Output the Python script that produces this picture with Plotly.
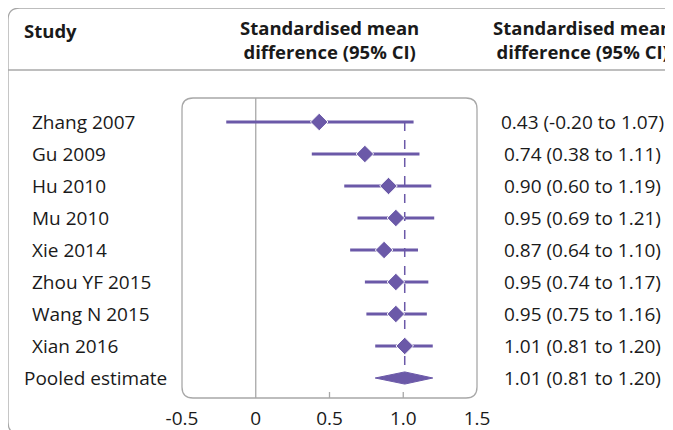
import plotly.graph_objects as go

studies = ["Zhang 2007", "Gu 2009", "Hu 2010", "Mu 2010", "Xie 2014",
           "Zhou YF 2015", "Wang N 2015", "Xian 2016"]
smd = [0.43, 0.74, 0.90, 0.95, 0.87, 0.95, 0.95, 1.01]
lower = [-0.20, 0.38, 0.60, 0.69, 0.64, 0.74, 0.75, 0.81]
upper = [1.07, 1.11, 1.19, 1.21, 1.10, 1.17, 1.16, 1.20]
pooled_label = "Pooled estimate"
pooled = [1.01, 0.81, 1.20]  # estimate, lower, upper
tick_vals = [-0.5, 0, 0.5, 1.0, 1.5]
tick_text = ["-0.5", "0", "0.5", "1.0", "1.5"]

PURPLE = "#6b59a8"
GRAY = "#a8a8a8"
TXT = "#1a1a1a"
FONT = "Open Sans"

OFF = 8  # page body margin
W, H = 673 - OFF, 430 - OFF
L, R, T, B = 182 - OFF, 477 - OFF, 98 - OFF, 398 - OFF
PW, PH = R - L, B - T

def px(x):
    return (x - OFF - L) / PW

def py(y):
    return (B - (y - OFF)) / PH

def rrect(x0, y0, x1, y1, r):
    rx, ry = r / PW, r / PH
    a, b, c, d = px(x0), py(y1), px(x1), py(y0)
    return (f"M {a+rx},{b} L {c-rx},{b} Q {c},{b} {c},{b+ry} L {c},{d-ry} "
            f"Q {c},{d} {c-rx},{d} L {a+rx},{d} Q {a},{d} {a},{d-ry} "
            f"L {a},{b+ry} Q {a},{b} {a+rx},{b} Z")

n = len(studies)
rows = list(range(n))
pooled_row = n

fig = go.Figure()

fig.add_trace(go.Scatter(
    x=smd, y=rows, mode="markers",
    marker=dict(symbol="diamond", size=13.5, color=PURPLE,
                line=dict(color="white", width=1)),
    error_x=dict(type="data", symmetric=False,
                 array=[u - m for u, m in zip(upper, smd)],
                 arrayminus=[m - l for l, m in zip(lower, smd)],
                 color=PURPLE, thickness=3, width=0),
    showlegend=False, hoverinfo="skip", cliponaxis=False))

h = 0.19
fig.add_trace(go.Scatter(
    x=[pooled[1], pooled[0], pooled[2], pooled[0], pooled[1]],
    y=[pooled_row, pooled_row - h, pooled_row, pooled_row + h, pooled_row],
    mode="lines", fill="toself", fillcolor=PURPLE,
    line=dict(color=PURPLE, width=1), showlegend=False, hoverinfo="skip"))

shapes = []
shapes.append(dict(type="path", xref="paper", yref="paper",
                   path=rrect(8, 8, 700, 434, 12),
                   line=dict(color=GRAY, width=1.3), layer="below"))
shapes.append(dict(type="line", xref="paper", yref="paper",
                   x0=px(8), x1=px(700), y0=py(70), y1=py(70),
                   line=dict(color=GRAY, width=1.3)))
shapes.append(dict(type="path", xref="paper", yref="paper",
                   path=rrect(182, 98, 477, 398, 11),
                   line=dict(color=GRAY, width=1.3), layer="below"))
shapes.append(dict(type="line", xref="x", yref="paper", x0=0, x1=0, y0=0, y1=1,
                   line=dict(color=GRAY, width=1.3), layer="below"))
shapes.append(dict(type="line", xref="x", yref="y", x0=pooled[0], x1=pooled[0],
                   y0=0, y1=pooled_row,
                   line=dict(color=PURPLE, width=1.5, dash="dash"), layer="below"))
for tv in tick_vals[1:-1]:
    if tv == 0:
        continue
    shapes.append(dict(type="line", xref="x", yref="paper", x0=tv, x1=tv,
                       y0=0, y1=6 / PH, line=dict(color=GRAY, width=1.3)))

lab_font = dict(size=19, color=TXT, family=FONT)
ann = []
for i, s in enumerate(studies):
    ann.append(dict(x=px(30), y=i, xref="paper", yref="y", text=s,
                    xanchor="left", yanchor="middle", showarrow=False, font=lab_font))
    ann.append(dict(x=px(582), y=i, xref="paper", yref="y",
                    text=f"{smd[i]:.2f} ({lower[i]:.2f} to {upper[i]:.2f})",
                    xanchor="center", yanchor="middle", showarrow=False, font=lab_font))
ann.append(dict(x=px(22), y=pooled_row, xref="paper", yref="y", text=pooled_label,
                xanchor="left", yanchor="middle", showarrow=False, font=lab_font))
ann.append(dict(x=px(582), y=pooled_row, xref="paper", yref="y",
                text=f"{pooled[0]:.2f} ({pooled[1]:.2f} to {pooled[2]:.2f})",
                xanchor="center", yanchor="middle", showarrow=False, font=lab_font))

hdr_font = dict(size=18.5, color=TXT, family=FONT)
ann.append(dict(x=px(22), y=py(30), xref="paper", yref="paper", text="<b>Study</b>",
                xanchor="left", yanchor="middle", showarrow=False, font=hdr_font))
ann.append(dict(x=px(329), y=py(40), xref="paper", yref="paper",
                text="<b>Standardised mean<br>difference (95% CI)</b>",
                xanchor="center", yanchor="middle", showarrow=False, font=hdr_font,
                align="center"))
ann.append(dict(x=px(582), y=py(40), xref="paper", yref="paper",
                text="<b>Standardised mean<br>difference (95% CI)</b>",
                xanchor="center", yanchor="middle", showarrow=False, font=hdr_font,
                align="center"))

fig.update_layout(
    width=W, height=H, margin=dict(l=L, r=W - R, t=T, b=H - B, autoexpand=False),
    paper_bgcolor="white", plot_bgcolor="rgba(0,0,0,0)",
    shapes=shapes, annotations=ann,
    font=dict(family=FONT, color=TXT),
    xaxis=dict(range=[-0.5, 1.5], tickvals=tick_vals, ticktext=tick_text,
               showgrid=False, zeroline=False, showline=False, ticks="",
               automargin=False, ticklabelstandoff=7,
               tickfont=dict(size=19, color=TXT, family=FONT)),
    yaxis=dict(range=[pooled_row + 0.625, -0.75], showgrid=False, zeroline=False,
               showticklabels=False, showline=False, ticks="", automargin=False),
)

fig.write_html("out.html")
